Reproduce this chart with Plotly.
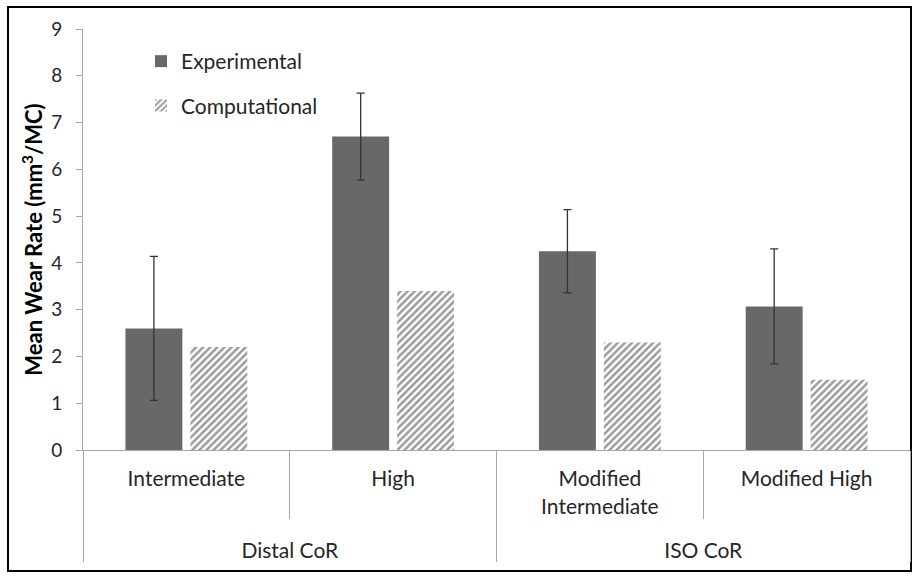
import plotly.graph_objects as go

groups = ["<br>Distal CoR", "<br>Distal CoR", "<br>ISO CoR", "<br>ISO CoR"]
subcats = ["Intermediate", "High", "Modified<br>Intermediate", "Modified High"]
experimental = [2.6, 6.7, 4.25, 3.07]
experimental_err = [1.54, 0.93, 0.89, 1.23]
computational = [2.2, 3.4, 2.3, 1.5]
yticks = [0, 1, 2, 3, 4, 5, 6, 7, 8, 9]

FONT = "Lato"
W, H = 914, 577
L, R, T, B = 83, 4, 29, 127
pw, ph = W - L - R, H - T - B

fig = go.Figure()
fig.add_trace(go.Bar(
    x=[groups, subcats], y=experimental, name="Experimental",
    legendgroup="a",
    marker=dict(color="#686868", line=dict(width=0)),
    error_y=dict(type="data", array=experimental_err, color="#333333",
                 thickness=1.3, width=4),
))
fig.add_trace(go.Bar(
    x=[groups, subcats], y=computational, name="Computational",
    legendgroup="b",
    marker=dict(color="white", line=dict(width=0),
                pattern=dict(shape="/", fgcolor="#383838", bgcolor="white",
                             size=5, solidity=0.5)),
))

fig.update_layout(
    width=W, height=H,
    margin=dict(l=L, r=R, t=T, b=B),
    paper_bgcolor="white", plot_bgcolor="white",
    barmode="group", bargap=0.372, bargroupgap=0.123,
    font=dict(family=FONT, color="#262626", size=21),
    showlegend=True,
    legend=dict(x=(141 - L) / pw, xanchor="left", y=1 - (41 - T) / ph, yanchor="top",
                bgcolor="rgba(0,0,0,0)", font=dict(family=FONT, size=21, color="#262626"),
                tracegroupgap=14, traceorder="grouped"),
    xaxis=dict(
        type="multicategory", showline=True, linecolor="#a6a6a6", linewidth=1,
        ticks="outside", ticklen=68, tickcolor="#a6a6a6", tickwidth=1,
        showdividers=True, dividercolor="#a6a6a6", dividerwidth=1,
        ticklabelstandoff=10,
        tickfont=dict(family=FONT, size=21, color="#262626"),
        showgrid=False, zeroline=False, automargin=False,
    ),
    yaxis=dict(
        range=[0, 9], tickvals=yticks, showline=True, linecolor="#a6a6a6", linewidth=1,
        ticks="outside", ticklen=6, tickcolor="#a6a6a6", showgrid=False, zeroline=False,
        ticklabelstandoff=10, automargin=False,
        tickfont=dict(family=FONT, size=19, color="#262626"),
        title=dict(text="<b>Mean Wear Rate (mm<sup>3</sup>/MC)</b>", standoff=2,
                   font=dict(family=FONT, size=22, color="#000000")),
    ),
)

# outer frame
fig.add_shape(type="rect", xref="paper", yref="paper",
              x0=(8 - L) / pw, x1=(911 - L) / pw,
              y0=(H - B - 571) / ph, y1=(H - B - 7) / ph,
              line=dict(color="black", width=2), fillcolor="rgba(0,0,0,0)", layer="below")

fig.write_html("out.html", config={"displayModeBar": False},
               post_script="document.body.style.margin='0';")
